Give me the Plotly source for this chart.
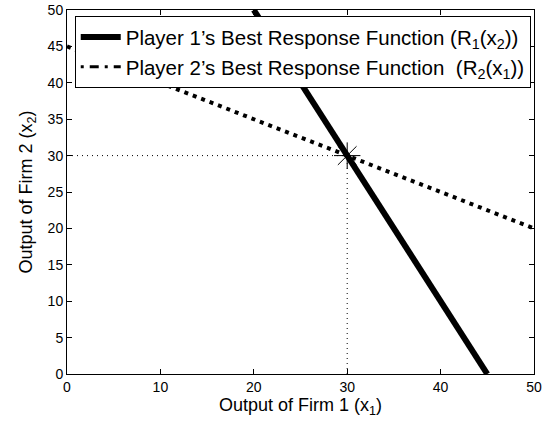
import plotly.graph_objects as go

# Data
p1_x1 = [45, 20]   # Player 1 best response: x1 = R1(x2)
p1_x2 = [0, 50]
p2_x1 = [0, 50]    # Player 2 best response: x2 = R2(x1)
p2_x2 = [45, 20]
nash_x = [30]
nash_y = [30]
ticks = [0, 5, 10, 15, 20, 25, 30, 35, 40, 45, 50]
xticks = [0, 10, 20, 30, 40, 50]
name1 = "Player 1’s Best Response Function (R<sub>1</sub>(x<sub>2</sub>))"
name2 = "Player 2’s Best Response Function  (R<sub>2</sub>(x<sub>1</sub>))"

fig = go.Figure()
fig.add_trace(go.Scatter(x=[0, nash_x[0]], y=[nash_y[0], nash_y[0]], mode="lines",
                         line=dict(color="black", width=1, dash="1px,4px"), showlegend=False))
fig.add_trace(go.Scatter(x=[nash_x[0], nash_x[0]], y=[0, nash_y[0]], mode="lines",
                         line=dict(color="black", width=1, dash="1px,4px"), showlegend=False))
fig.add_trace(go.Scatter(x=p1_x1, y=p1_x2, mode="lines",
                         line=dict(color="black", width=6), showlegend=False))
fig.add_trace(go.Scatter(x=p2_x1, y=p2_x2, mode="lines",
                         line=dict(color="black", width=4, dash="4px,5px"), showlegend=False))
fig.add_trace(go.Scatter(x=nash_x, y=nash_y, mode="markers",
                         marker=dict(symbol="asterisk-open", size=22, color="black",
                                     line=dict(color="black", width=1)),
                         showlegend=False))
# legend entries
fig.add_trace(go.Scatter(x=[None], y=[None], mode="lines",
                         line=dict(color="black", width=6), name=name1))
fig.add_trace(go.Scatter(x=[None], y=[None], mode="lines",
                         line=dict(color="black", width=3, dash="3px,6px,9px,6px"), name=name2))

axis_common = dict(showgrid=False, zeroline=False, showline=True, linecolor="black",
                   linewidth=1, mirror="ticks", ticks="inside", ticklen=5, automargin=False,
                   tickcolor="black", tickfont=dict(size=14, color="black"))

fig.update_layout(
    width=542, height=423,
    margin=dict(l=67, r=8, t=10, b=49),
    paper_bgcolor="white", plot_bgcolor="white",
    font=dict(family="Liberation Sans, Arial, sans-serif", color="black"),
    xaxis=dict(range=[0, 50], tickvals=xticks, ticklabeloverflow="allow",
               title=dict(text="Output of Firm 1 (x<sub>1</sub>)", font=dict(size=18), standoff=0),
               **axis_common),
    yaxis=dict(range=[0, 50], tickvals=ticks, ticklabeloverflow="allow",
               title=dict(text="Output of Firm 2 (x<sub>2</sub>)", font=dict(size=18), standoff=10),
               **axis_common),
    legend=dict(x=0.993, y=0.983, xanchor="right", yanchor="top",
                bgcolor="white", bordercolor="black", borderwidth=1,
                font=dict(size=20.5, color="black"), tracegroupgap=0, itemwidth=40),
)

fig.write_html("out.html")
